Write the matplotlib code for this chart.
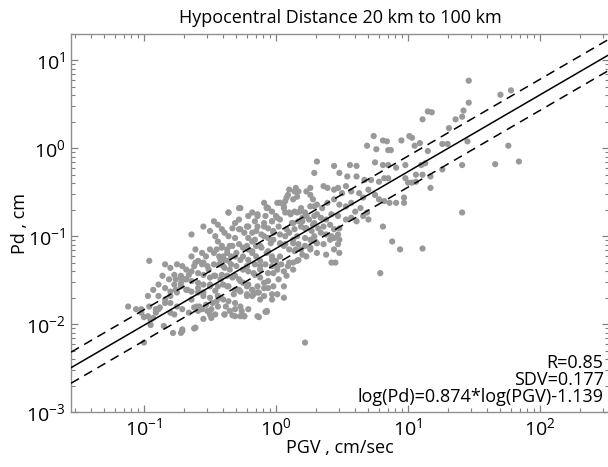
import numpy as np
import matplotlib
matplotlib.use('Agg')
import matplotlib.pyplot as plt
from matplotlib.ticker import LogLocator, FuncFormatter, NullFormatter

# log10(PGV) and log10(Pd)
log_pgv = [
    # upper points
    0.69, 0.74, 0.76, 0.81, 0.84, 0.85, 0.87, 0.95, 1.01, 1.03, 1.05, 1.09, 1.11, 1.15,
    1.18, 1.15, 1.26, 1.30, 1.31, 1.36, 1.41, 1.42, 1.45, 1.46, 1.46, 1.70, 1.78, 1.76,
    0.31, 0.44, 0.56, 0.61, 0.75, 0.81, 0.85, 0.91, 0.98, 1.06, 1.10, 1.13, 1.66, 1.84,
    1.41, 0.29, 0.48, 0.54, 0.61, 0.67, 0.72, 0.78, 0.82, 0.85, 0.98, 1.00, 1.06, 1.11,
    1.17, 1.26, 0.26, 0.23, 0.36, 0.39, 0.44, 0.47, 0.50, 0.53, 0.57, 0.63, 0.66, 0.70,
    0.75, 0.78, 0.82, 0.86, 0.91, 0.97, 0.97, 1.03, 1.17, 1.41, 0.88, 0.94, 1.11, 0.79,
    0.81,
    # main cloud
    0.10, 0.14, 0.16, 0.13, 0.09, 0.07, 0.03, 0.06, -0.03, -0.06, -0.09, -0.08, 0.00,
    -0.03, 0.03, 0.07, 0.11, 0.14, 0.19, 0.22, 0.28, 0.31, 0.35, 0.39, 0.44, 0.48, 0.53,
    0.57, 0.60, 0.64, 0.69, 0.70, 0.66, 0.61, 0.57, 0.53, 0.47, 0.42, 0.38, 0.34, 0.29,
    0.25, 0.20, 0.17, 0.13, 0.14, 0.19, 0.23, 0.28, 0.32, 0.36, 0.41, 0.44, 0.48, 0.47,
    0.42, 0.38, 0.34, 0.29, 0.26, 0.31, 0.36, 0.41, 0.44, 0.48, 0.47, 0.44, 0.48, 0.45,
    0.42, 0.38, 0.31, 0.26, 0.22, 0.17, 0.13, 0.16, 0.10, 0.07, 0.03, -0.02, -0.06,
    -0.09, -0.14, -0.15, -0.11, -0.06, -0.02, 0.03, 0.07, 0.10, 0.14, 0.19, 0.23, 0.17,
    0.13, 0.09, 0.04, 0.00, -0.03, -0.06, -0.11, -0.15, -0.18, -0.21, -0.24, -0.28,
    -0.21, -0.16, -0.14, -0.18, -0.21, -0.28, -0.31, -0.33, -0.36, -0.39, -0.41, -0.44,
    -0.47, -0.50, -0.46, -0.44, -0.41, -0.37, -0.33, -0.28, -0.25, -0.21, -0.18, -0.15,
    -0.12, -0.08, -0.03, 0.01, -0.06, -0.12, -0.16, -0.21, -0.25, -0.30, -0.34, -0.39,
    -0.43, -0.47, -0.50, -0.53, -0.56, -0.61, -0.64, -0.61, -0.56, -0.52, -0.47, -0.43,
    -0.39, -0.34, -0.30, -0.25, -0.21, -0.16, -0.12, -0.09, -0.14, -0.18, -0.21, -0.25,
    -0.28, -0.33, -0.37, -0.41, -0.46, -0.50, -0.55, -0.59, -0.64, -0.68, -0.71, -0.75,
    -0.80, -0.84, -0.77, -0.72, -0.68, -0.64, -0.59, -0.55, -0.50, -0.44, -0.40, -0.36,
    -0.31, -0.27, -0.22, -0.18, -0.14, -0.09, -0.03, 0.06, -0.06, -0.02, -0.86, -0.81,
    -0.77, -0.72, -0.68, -0.64, -0.59, -0.55, -0.50, -0.44, -0.40, -0.36, -0.31, -0.27,
    -0.21, -0.75, -0.80, -0.84, -0.89, -0.93, -0.89, -0.84, -0.80, -0.75, -0.71, -0.66,
    -0.62, -0.58, -0.53, -0.49, -0.44, -0.39, -0.33, -0.25, -0.08, -0.97, -0.96, -0.91,
    -0.97, -1.02, -1.06, -1.12, -0.96, -0.64, -0.36, -0.28, -0.55,
    # core, second reading
    0.15, 0.17, 0.26, 0.01, -0.07, 0.06, 0.10, 0.16, 0.26, 0.20, 0.23, 0.29, 0.31, 0.27,
    0.22, 0.30, 0.26, 0.20, 0.16, 0.13, 0.08, 0.06, 0.01, -0.03, -0.07, -0.12, -0.16,
    -0.18, -0.22, -0.27, -0.31, -0.35, -0.37, -0.41, -0.45, -0.42, -0.40, -0.35, -0.31,
    -0.27, -0.22, -0.18, -0.13, -0.09, -0.06, -0.02, 0.02, 0.06, 0.01, -0.03, -0.12,
    -0.17, -0.22, -0.28, -0.32, -0.37, -0.42, -0.47, -0.51, -0.55, -0.59, -0.62, -0.66,
    -0.69, -0.72, -0.76, -0.80, -0.84, -0.88, -0.91, -0.95, -0.76, -0.72, -0.67, -0.64,
    -0.60, -0.56, -0.52, -0.48, -0.45, -0.55, -0.59, -0.50, -0.46, -0.42, -0.38, -0.35,
    -0.31, -0.24, -0.14, -0.07, -0.26, -0.78, -0.71, -0.61, -0.85, -0.36, -0.27, -0.14,
    -0.07, 0.08, 0.18, 0.29, 0.22, 0.13, 0.15, 0.06, 0.03, 0.10, -0.12, -0.17, -0.22,
    -0.27, -0.31, -0.36, -0.40, -0.22, -0.18, -0.04, -0.09, -0.02, 0.02, 0.08, 0.12,
    -0.03, -0.09, 0.01,
    # lower points
    -1.00, -0.95, -0.93, -0.72, -0.71, -0.62, -0.55, -0.49, -0.27, -0.24, -0.13, -0.07,
    -1.00, 0.22, -1.02, -0.89, -0.80, -0.77, -0.39, -0.31, -0.50, -0.46, -0.59,
]
log_pd = [
    # upper points
    0.03, 0.14, -0.01, 0.09, 0.08, -0.02, -0.02, 0.09, 0.14, 0.12, 0.03, 0.06, 0.33, 0.42,
    0.41, -0.03, 0.05, 0.05, 0.23, 0.33, 0.36, 0.43, 0.08, 0.52, 0.77, 0.61, 0.66, 0.03,
    -0.15, -0.20, -0.19, -0.20, -0.16, -0.19, -0.19, -0.22, -0.19, -0.30, -0.19, -0.17,
    -0.18, -0.15, -0.19, -0.28, -0.28, -0.32, -0.32, -0.36, -0.36, -0.38, -0.34, -0.34,
    -0.34, -0.39, -0.38, -0.30, -0.32, -0.24, -0.45, -0.49, -0.43, -0.45, -0.47, -0.45,
    -0.51, -0.43, -0.49, -0.51, -0.56, -0.47, -0.53, -0.58, -0.60, -0.62, -0.62, -0.62,
    -0.56, -0.39, -0.45, -0.73, -1.06, -1.15, -1.14, -1.42, -0.89,
    # main cloud
    -0.47, -0.49, -0.55, -0.58, -0.53, -0.60, -0.62, -0.66, -0.72, -0.68, -0.62, -0.77,
    -0.77, -0.83, -0.81, -0.73, -0.75, -0.72, -0.68, -0.73, -0.58, -0.64, -0.68, -0.62,
    -0.58, -0.64, -0.66, -0.62, -0.72, -0.68, -0.73, -0.81, -0.77, -0.83, -0.79, -0.81,
    -0.77, -0.75, -0.81, -0.79, -0.77, -0.81, -0.79, -0.83, -0.85, -0.92, -0.89, -0.91,
    -0.87, -0.91, -0.89, -0.87, -0.92, -0.91, -0.98, -1.00, -0.98, -0.96, -1.00, -1.04,
    -1.08, -1.09, -1.04, -1.02, -1.04, -1.09, -1.15, -1.19, -1.30, -1.30, -1.21, -1.19,
    -1.15, -1.11, -1.09, -1.04, -1.00, -0.96, -1.00, -0.98, -0.94, -0.91, -0.85, -0.89,
    -0.94, -0.98, -1.02, -1.04, -1.08, -1.09, -1.15, -1.17, -1.15, -1.23, -1.27, -1.30,
    -1.34, -1.32, -1.28, -1.23, -1.17, -1.13, -1.11, -1.06, -1.02, -0.96, -0.92, -0.89,
    -0.83, -0.75, -0.73, -0.77, -0.81, -0.85, -0.91, -1.00, -0.96, -0.92, -0.87, -0.83,
    -0.94, -1.00, -1.06, -1.11, -1.15, -1.11, -1.09, -1.13, -1.15, -1.19, -1.23, -1.28,
    -1.32, -1.34, -1.38, -1.42, -1.38, -1.32, -1.27, -1.23, -1.19, -1.23, -1.27, -1.23,
    -1.19, -1.15, -1.23, -1.19, -1.15, -1.23, -1.30, -1.32, -1.34, -1.32, -1.32, -1.36,
    -1.32, -1.34, -1.38, -1.40, -1.44, -1.47, -1.53, -1.57, -1.61, -1.55, -1.53, -1.49,
    -1.47, -1.45, -1.44, -1.45, -1.47, -1.44, -1.42, -1.40, -1.38, -1.34, -1.32, -1.36,
    -1.32, -1.44, -1.47, -1.49, -1.51, -1.53, -1.55, -1.57, -1.57, -1.55, -1.57, -1.61,
    -1.63, -1.66, -1.68, -1.64, -1.68, -1.66, -1.70, -1.59, -1.57, -1.45, -1.49, -1.55,
    -1.57, -1.61, -1.63, -1.64, -1.68, -1.70, -1.68, -1.72, -1.74, -1.76, -1.80, -1.83,
    -1.64, -1.63, -1.59, -1.55, -1.61, -1.68, -1.72, -1.76, -1.80, -1.83, -1.87, -1.81,
    -1.80, -1.78, -1.83, -1.80, -1.89, -1.90, -1.90, -1.86, -1.68, -1.80, -1.83, -1.91,
    -1.87, -1.83, -1.80, -1.28, -0.98, -0.73, -0.68, -0.89,
    # core, second reading
    -0.45, -0.49, -0.53, -0.62, -0.67, -0.68, -0.73, -0.73, -0.66, -0.83, -0.77, -0.85,
    -0.75, -0.94, -1.02, -1.06, -1.13, -1.21, -1.28, -1.38, -1.45, -1.40, -1.34, -1.27,
    -1.19, -1.11, -1.04, -0.96, -0.89, -0.92, -1.02, -1.11, -1.19, -1.13, -1.15, -1.27,
    -1.34, -1.38, -1.45, -1.51, -1.57, -1.61, -1.64, -1.59, -1.51, -1.42, -1.49, -1.57,
    -1.66, -1.72, -1.72, -1.66, -1.68, -1.61, -1.66, -1.57, -1.49, -1.45, -1.38, -1.30,
    -1.28, -1.34, -1.44, -1.49, -1.53, -1.61, -1.68, -1.76, -1.81, -1.87, -1.95, -1.49,
    -1.45, -1.61, -1.72, -1.80, -1.83, -1.85, -1.76, -1.74, -1.64, -1.59, -1.55, -1.62,
    -1.70, -1.80, -1.85, -1.91, -1.91, -1.91, -1.85, -1.85, -2.10, -2.08, -2.04, -2.02,
    -0.73, -0.68, -0.77, -0.68, -0.56, -0.72, -0.66, -0.91, -1.08, -1.15, -1.11, -1.23,
    -1.30, -1.34, -1.42, -1.34, -1.27, -1.23, -1.28, -1.23, -1.11, -1.17, -1.08, -1.00,
    -0.96, -0.89, -0.92, -0.85, -0.83, -0.89, -0.79,
    # lower points
    -1.92, -2.01, -1.93, -2.10, -2.06, -2.05, -1.94, -1.93, -1.91, -1.91, -1.92, -1.86,
    -2.21, -2.21, -1.83, -1.83, -1.87, -1.89, -1.89, -1.83, -1.89, -1.89, -1.85,
]

# regression shown in the figure
slope = 0.874
intercept = -1.139
sdv = 0.177
r_value = 0.85

x_lim = (0.028, 333)
y_lim = (1e-3, 20)

pgv = 10 ** np.array(log_pgv)
pd_ = 10 ** np.array(log_pd)

plt.rcParams['font.family'] = ['Open Sans', 'DejaVu Sans']
plt.rcParams['mathtext.default'] = 'regular'

fig = plt.figure(figsize=(6.08, 4.67), dpi=100)
ax = fig.add_axes([71 / 608, 55 / 467, 538 / 608, 378 / 467])

ax.scatter(pgv, pd_, s=20, color='#999999', edgecolors='none', zorder=2)

xx = np.array(x_lim)
fit = 10 ** (slope * np.log10(xx) + intercept)
ax.plot(xx, fit, color='black', lw=1.1, zorder=3)
ax.plot(xx, fit * 10 ** sdv, color='black', lw=1.1, ls=(0, (6, 4)), zorder=3)
ax.plot(xx, fit / 10 ** sdv, color='black', lw=1.1, ls=(0, (6, 4)), zorder=3)

ax.set_xscale('log')
ax.set_yscale('log')
ax.set_xlim(*x_lim)
ax.set_ylim(*y_lim)

fmt = FuncFormatter(lambda v, p: r'$10^{%d}$' % round(np.log10(v)))
for axis in (ax.xaxis, ax.yaxis):
    axis.set_major_locator(LogLocator(base=10, numticks=10))
    axis.set_minor_locator(LogLocator(base=10, subs=np.arange(2, 10), numticks=20))
    axis.set_major_formatter(fmt)
    axis.set_minor_formatter(NullFormatter())

ax.tick_params(which='both', direction='in', top=True, right=True, color='#808080',
               labelsize=14, pad=4)
ax.tick_params(which='major', length=5, width=0.9)
ax.tick_params(which='minor', length=3, width=0.8)
for sp in ax.spines.values():
    sp.set_color('#909090')
    sp.set_linewidth(1.0)

ax.set_xlabel('PGV , cm/sec', fontsize=13, labelpad=0)
ax.set_ylabel('Pd , cm', fontsize=13)
ax.yaxis.set_label_coords(-0.078, 0.5)
ax.set_title('Hypocentral Distance 20 km to 100 km', fontsize=13, pad=8)

ax.text(0.99, 0.015,
        f'R={r_value:.2f}\nSDV={sdv:.3f}\nlog(Pd)={slope:.3f}*log(PGV){intercept:.3f}',
        transform=ax.transAxes, ha='right', va='bottom', multialignment='right',
        fontsize=13, linespacing=0.95)

fig.savefig('out.png', dpi=100)
